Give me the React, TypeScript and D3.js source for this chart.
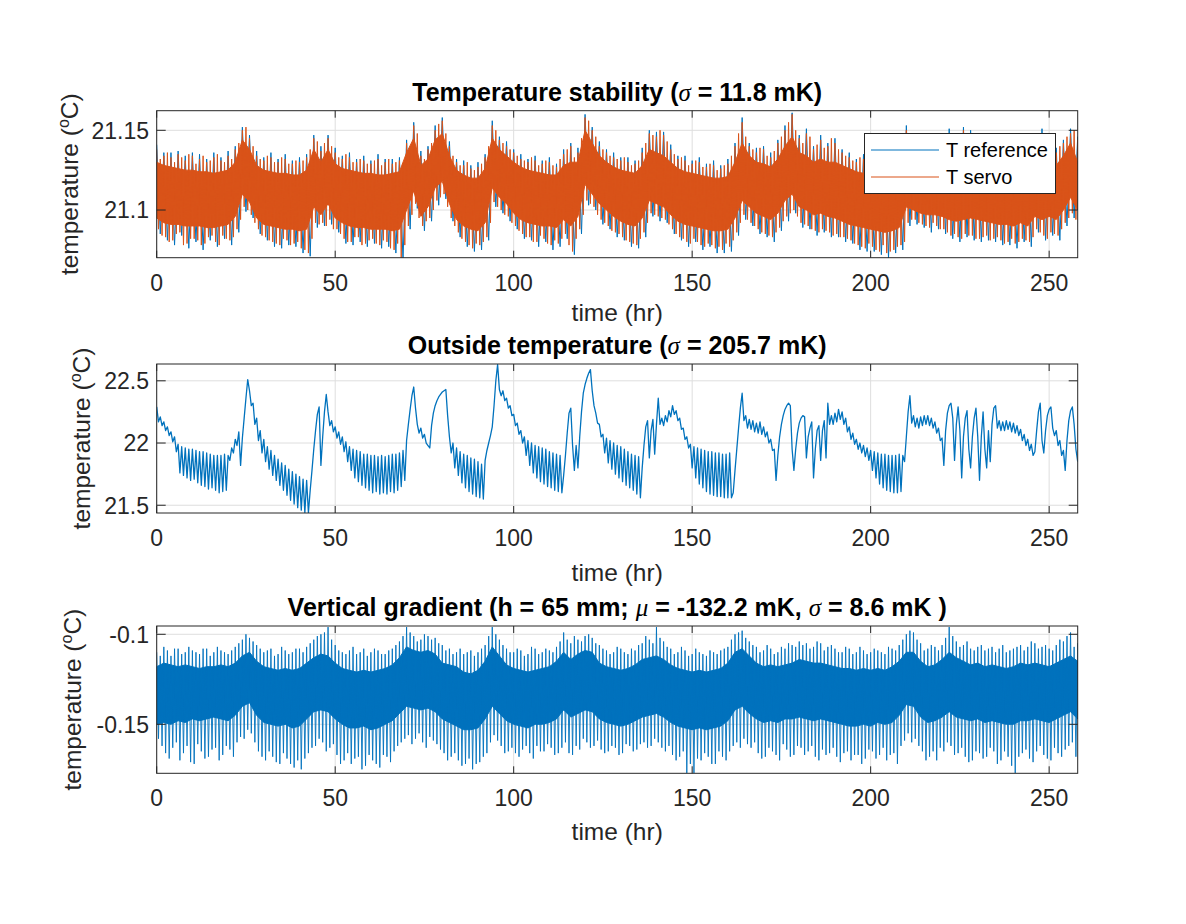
import React from 'react';
import * as d3 from 'd3';

// ---------- axes / ticks ----------
const X_MAX = 258;
const xTicks = [0, 50, 100, 150, 200, 250];
const stabTicks = [21.1, 21.15];
const outsideTicks = [21.5, 22, 22.5];
const gradTicks = [-0.15, -0.1];
const stabDomain = [21.0701, 21.1623];
const outsideDomain = [21.4376, 22.635];
const gradDomain = [-0.1772, -0.0954];

// ---------- panel 1 : temperature stability (even-hour samples, step 2 hr) ----------
const STAB_STEP = 2;
const servoHi = [
  21.138,21.134,21.133,21.135,21.131,21.134,21.132,21.130,21.133,21.131,
  21.134,21.138,21.150,21.145,21.134,21.131,21.133,21.130,21.132,21.129,
  21.130,21.133,21.145,21.137,21.145,21.136,21.132,21.133,21.130,21.131,
  21.129,21.132,21.130,21.129,21.131,21.142,21.153,21.134,21.138,21.150,
  21.156,21.140,21.130,21.128,21.126,21.127,21.133,21.153,21.144,21.140,
  21.136,21.132,21.130,21.131,21.129,21.130,21.127,21.135,21.140,21.136,
  21.158,21.150,21.140,21.136,21.133,21.131,21.130,21.129,21.136,21.148,
  21.146,21.147,21.138,21.132,21.131,21.129,21.130,21.127,21.128,21.126,
  21.129,21.140,21.155,21.140,21.136,21.138,21.133,21.142,21.150,21.160,
  21.145,21.148,21.138,21.144,21.140,21.142,21.136,21.133,21.130,21.132,
  21.130,21.128,21.131,21.129,21.130,21.150,21.140,21.136,21.138,21.135,
  21.137,21.148,21.139,21.150,21.147,21.138,21.135,21.136,21.134,21.135,
  21.133,21.137,21.134,21.140,21.148,21.140,21.136,21.142,21.148,21.144,
];
const servoLo = [
  21.088,21.083,21.081,21.086,21.079,21.082,21.078,21.083,21.080,21.084,
  21.081,21.088,21.102,21.097,21.088,21.083,21.080,21.078,21.081,21.079,
  21.076,21.073,21.092,21.092,21.094,21.088,21.082,21.080,21.083,21.079,
  21.082,21.078,21.080,21.075,21.070,21.090,21.104,21.090,21.095,21.106,
  21.110,21.095,21.086,21.080,21.076,21.078,21.083,21.105,21.100,21.096,
  21.090,21.085,21.083,21.080,21.082,21.078,21.079,21.085,21.074,21.088,
  21.106,21.102,21.094,21.090,21.086,21.083,21.080,21.078,21.086,21.098,
  21.096,21.094,21.088,21.083,21.080,21.082,21.078,21.079,21.076,21.075,
  21.077,21.086,21.097,21.092,21.088,21.085,21.083,21.089,21.096,21.100,
  21.092,21.090,21.087,21.088,21.086,21.085,21.083,21.081,21.078,21.076,
  21.077,21.074,21.073,21.075,21.078,21.092,21.094,21.091,21.089,21.090,
  21.088,21.084,21.083,21.085,21.084,21.082,21.084,21.082,21.081,21.080,
  21.079,21.082,21.080,21.088,21.084,21.086,21.084,21.092,21.098,21.092,
];
// odd-hour samples (t = 1, 3, ..., 257)
const servoHiOdd = [
  21.132,21.136,21.130,21.133,21.135,21.129,21.134,21.131,21.135,21.130,
  21.132,21.142,21.152,21.140,21.132,21.134,21.130,21.133,21.129,21.131,
  21.131,21.138,21.143,21.142,21.140,21.133,21.135,21.130,21.132,21.129,
  21.131,21.128,21.132,21.130,21.129,21.136,21.148,21.132,21.142,21.154,
  21.148,21.134,21.128,21.130,21.125,21.129,21.140,21.150,21.142,21.138,
  21.134,21.131,21.133,21.128,21.131,21.128,21.132,21.138,21.133,21.145,
  21.156,21.146,21.138,21.134,21.132,21.133,21.128,21.131,21.142,21.147,
  21.150,21.143,21.135,21.133,21.128,21.131,21.127,21.129,21.125,21.128,
  21.134,21.148,21.146,21.138,21.139,21.134,21.137,21.146,21.155,21.150,
  21.142,21.146,21.141,21.139,21.145,21.138,21.134,21.131,21.133,21.129,
  21.131,21.129,21.127,21.131,21.133,21.145,21.142,21.134,21.137,21.133,
  21.142,21.140,21.144,21.143,21.139,21.136,21.137,21.133,21.136,21.132,
  21.135,21.136,21.138,21.145,21.138,21.137,21.140,21.146,21.150,
];
const servoLoOdd = [
  21.084,21.080,21.085,21.078,21.082,21.081,21.079,21.084,21.078,21.082,
  21.083,21.094,21.100,21.092,21.084,21.081,21.079,21.082,21.078,21.080,
  21.075,21.082,21.091,21.090,21.088,21.085,21.080,21.083,21.078,21.081,
  21.079,21.081,21.076,21.079,21.078,21.097,21.095,21.093,21.100,21.108,
  21.102,21.090,21.082,21.078,21.079,21.080,21.092,21.102,21.097,21.092,
  21.087,21.083,21.080,21.084,21.079,21.081,21.082,21.078,21.082,21.097,
  21.104,21.097,21.092,21.087,21.085,21.081,21.079,21.082,21.092,21.097,
  21.095,21.091,21.085,21.082,21.079,21.080,21.077,21.078,21.077,21.079,
  21.081,21.092,21.094,21.090,21.086,21.084,21.086,21.093,21.098,21.096,
  21.091,21.088,21.086,21.087,21.084,21.083,21.082,21.079,21.077,21.079,
  21.075,21.078,21.074,21.077,21.080,21.094,21.092,21.090,21.092,21.088,
  21.086,21.085,21.082,21.084,21.082,21.083,21.081,21.083,21.079,21.082,
  21.080,21.081,21.083,21.086,21.082,21.085,21.088,21.095,21.094,
];
const servoCoreHi = [
  21.130,21.128,21.127,21.126,21.125,21.125,21.124,21.124,21.123,21.124,
  21.125,21.130,21.144,21.138,21.128,21.125,21.124,21.123,21.123,21.122,
  21.122,21.125,21.138,21.130,21.138,21.129,21.126,21.125,21.124,21.123,
  21.123,21.122,21.122,21.123,21.124,21.136,21.145,21.128,21.132,21.144,
  21.148,21.134,21.125,21.122,21.120,21.120,21.126,21.145,21.138,21.134,
  21.130,21.127,21.125,21.124,21.123,21.122,21.122,21.128,21.130,21.130,
  21.150,21.142,21.134,21.130,21.127,21.125,21.124,21.123,21.128,21.138,
  21.136,21.134,21.130,21.126,21.124,21.123,21.122,21.121,21.120,21.120,
  21.121,21.130,21.142,21.134,21.130,21.129,21.127,21.132,21.140,21.146,
  21.136,21.134,21.130,21.132,21.130,21.130,21.128,21.126,21.124,21.123,
  21.122,21.121,21.120,21.121,21.122,21.136,21.132,21.130,21.131,21.130,
  21.129,21.130,21.129,21.130,21.130,21.128,21.127,21.127,21.126,21.126,
  21.125,21.127,21.125,21.132,21.130,21.131,21.128,21.134,21.142,21.130,
];
const servoCoreLo = [
  21.095,21.092,21.091,21.091,21.090,21.090,21.090,21.089,21.089,21.090,
  21.091,21.096,21.110,21.105,21.095,21.091,21.090,21.089,21.088,21.088,
  21.087,21.088,21.102,21.097,21.104,21.095,21.092,21.090,21.089,21.089,
  21.088,21.088,21.088,21.087,21.088,21.100,21.112,21.096,21.102,21.114,
  21.118,21.104,21.094,21.090,21.088,21.087,21.092,21.114,21.108,21.104,
  21.098,21.094,21.092,21.091,21.090,21.090,21.089,21.094,21.090,21.096,
  21.116,21.110,21.104,21.100,21.096,21.093,21.091,21.090,21.095,21.106,
  21.104,21.102,21.097,21.093,21.091,21.090,21.089,21.088,21.087,21.087,
  21.088,21.095,21.106,21.102,21.098,21.096,21.094,21.098,21.106,21.110,
  21.102,21.100,21.097,21.098,21.096,21.095,21.093,21.091,21.090,21.089,
  21.088,21.087,21.086,21.087,21.089,21.102,21.100,21.098,21.097,21.097,
  21.096,21.094,21.093,21.094,21.095,21.094,21.093,21.092,21.091,21.091,
  21.090,21.092,21.090,21.096,21.094,21.096,21.094,21.100,21.108,21.100,
];
const refHi = [
  21.141,21.136,21.136,21.137,21.134,21.136,21.135,21.132,21.136,21.133,
  21.137,21.140,21.152,21.147,21.137,21.133,21.136,21.132,21.135,21.131,
  21.133,21.135,21.147,21.140,21.147,21.139,21.134,21.136,21.132,21.134,
  21.131,21.135,21.132,21.132,21.133,21.144,21.155,21.137,21.140,21.153,
  21.158,21.143,21.132,21.131,21.128,21.130,21.135,21.156,21.146,21.143,
  21.138,21.135,21.132,21.134,21.131,21.133,21.129,21.138,21.142,21.139,
  21.160,21.152,21.143,21.138,21.136,21.133,21.133,21.131,21.139,21.150,
  21.149,21.149,21.141,21.134,21.134,21.131,21.133,21.129,21.131,21.128,
  21.132,21.142,21.158,21.142,21.139,21.140,21.136,21.144,21.153,21.161,
  21.147,21.151,21.140,21.147,21.142,21.145,21.138,21.136,21.132,21.135,
  21.132,21.131,21.133,21.132,21.132,21.153,21.142,21.139,21.140,21.138,
  21.139,21.151,21.141,21.152,21.150,21.140,21.138,21.138,21.137,21.137,
  21.136,21.139,21.137,21.142,21.151,21.142,21.139,21.144,21.151,21.146,
];
const refLo = [
  21.085,21.081,21.078,21.084,21.076,21.080,21.075,21.081,21.077,21.082,
  21.078,21.086,21.099,21.095,21.085,21.081,21.077,21.076,21.078,21.077,
  21.073,21.071,21.089,21.090,21.091,21.086,21.079,21.078,21.080,21.077,
  21.079,21.076,21.077,21.073,21.068,21.088,21.101,21.087,21.093,21.103,
  21.107,21.093,21.083,21.077,21.074,21.075,21.081,21.102,21.098,21.093,
  21.088,21.082,21.081,21.077,21.080,21.075,21.077,21.082,21.072,21.085,
  21.103,21.100,21.091,21.088,21.083,21.081,21.077,21.076,21.083,21.096,
  21.093,21.092,21.085,21.081,21.077,21.080,21.075,21.077,21.073,21.073,
  21.074,21.084,21.094,21.090,21.085,21.083,21.080,21.087,21.093,21.098,
  21.089,21.088,21.084,21.086,21.083,21.083,21.080,21.079,21.075,21.074,
  21.074,21.072,21.070,21.073,21.075,21.090,21.091,21.089,21.086,21.088,
  21.085,21.082,21.080,21.083,21.081,21.080,21.081,21.080,21.078,21.078,
  21.076,21.080,21.077,21.086,21.081,21.084,21.081,21.090,21.095,21.090,
];

// ---------- panel 2 : outside temperature (samples every 0.5 hr) ----------
const OUT_STEP = 0.5;
const outsideTemp = [
  22.29,22.17,22.21,22.14,22.17,22.10,22.13,22.06,22.09,22.01,
  22.05,21.93,21.99,21.76,21.97,21.74,21.96,21.72,21.95,21.70,
  21.95,21.71,21.94,21.68,21.93,21.66,21.93,21.65,21.92,21.63,
  21.91,21.64,21.90,21.62,21.90,21.60,21.90,21.61,21.91,21.62,
  21.90,21.86,21.96,21.92,22.03,21.98,22.09,21.82,22.04,22.20,
  22.36,22.51,22.42,22.30,22.32,22.15,22.20,22.02,22.10,21.92,
  22.03,21.85,21.97,21.79,21.94,21.74,21.90,21.70,21.87,21.66,
  21.84,21.62,21.82,21.58,21.79,21.54,21.77,21.51,21.75,21.48,
  21.73,21.46,21.71,21.44,21.70,21.44,21.62,21.78,21.95,22.10,
  22.23,22.29,21.82,22.05,22.25,22.39,22.25,22.14,22.18,22.09,
  22.13,22.04,22.09,21.99,22.05,21.93,22.01,21.85,21.97,21.78,
  21.95,21.72,21.94,21.69,21.93,21.66,21.91,21.64,21.91,21.62,
  21.90,21.60,21.90,21.61,21.89,21.59,21.90,21.60,21.89,21.59,
  21.90,21.61,21.91,21.60,21.91,21.62,21.92,21.65,21.94,21.70,
  22.02,22.15,22.27,22.38,22.45,22.28,22.15,22.08,22.12,22.04,
  22.07,22.00,21.98,21.96,22.14,22.24,22.30,22.34,22.37,22.39,
  22.41,22.42,22.43,22.22,22.05,21.92,22.00,21.80,21.96,21.74,
  21.93,21.68,21.91,21.64,21.90,21.61,21.88,21.59,21.87,21.57,
  21.85,21.56,21.83,21.55,21.86,21.94,22.00,22.06,22.13,22.30,
  22.50,22.63,22.43,22.38,22.42,22.34,22.36,22.28,22.30,22.22,
  22.23,22.14,22.16,22.07,22.10,22.00,22.05,21.90,22.02,21.82,
  22.00,21.76,21.98,21.72,21.97,21.69,21.96,21.67,21.95,21.65,
  21.93,21.64,21.92,21.62,21.91,21.61,21.90,21.60,21.74,21.90,
  22.08,22.24,22.28,21.98,21.78,21.98,21.80,22.05,22.25,22.40,
  22.47,22.52,22.56,22.59,22.42,22.30,22.24,22.16,22.15,22.05,
  22.07,21.92,22.04,21.84,22.02,21.79,22.00,21.75,21.98,21.72,
  21.97,21.69,21.95,21.66,21.93,21.64,21.91,21.62,21.90,21.59,
  21.89,21.56,21.80,21.98,22.13,22.18,21.88,22.10,22.19,21.91,
  22.15,22.36,22.15,22.20,22.14,22.22,22.17,22.26,22.21,22.30,
  22.23,22.26,22.18,22.20,22.11,22.12,22.03,22.05,21.96,21.99,
  21.80,21.97,21.72,21.96,21.67,21.95,21.64,21.94,21.61,21.93,
  21.59,21.93,21.58,21.92,21.57,21.92,21.57,21.91,21.56,21.91,
  21.56,21.92,21.56,21.60,21.78,21.95,22.12,22.28,22.40,22.18,
  22.22,22.12,22.19,22.11,22.18,22.09,22.16,22.08,22.17,22.07,
  22.13,22.05,22.09,22.00,22.03,21.94,21.95,21.70,21.90,22.05,
  22.15,22.22,22.27,22.30,22.32,22.30,21.95,21.78,21.95,22.08,
  22.16,22.20,22.22,22.21,21.88,22.05,22.12,22.17,21.72,21.95,
  22.10,22.14,21.86,22.10,22.18,21.88,22.32,22.15,22.22,22.15,
  22.24,22.17,22.27,22.19,22.25,22.15,22.20,22.09,22.13,22.03,
  22.08,21.99,22.03,21.95,22.00,21.92,21.98,21.89,21.96,21.86,
  21.94,21.78,21.93,21.72,21.92,21.67,21.91,21.64,21.91,21.62,
  21.90,21.61,21.90,21.60,21.90,21.60,21.91,21.61,21.90,21.85,
  22.05,22.25,22.38,22.16,22.22,22.13,22.20,22.12,22.21,22.14,
  22.22,22.15,22.22,22.14,22.20,22.12,22.17,22.08,22.12,22.02,
  22.04,21.82,22.10,22.24,22.30,22.32,22.20,21.86,22.15,22.29,
  22.10,21.72,22.05,22.20,22.26,21.95,21.80,22.05,22.20,22.28,
  22.05,21.70,22.05,22.25,21.95,21.80,22.10,21.85,22.15,22.28,
  22.30,22.12,22.18,22.10,22.17,22.10,22.18,22.11,22.17,22.09,
  22.16,22.08,22.14,22.06,22.11,22.02,22.07,21.98,22.03,21.94,
  21.99,21.90,21.93,22.10,22.25,22.32,22.02,21.92,22.10,22.22,
  22.27,22.29,22.12,22.06,22.10,21.98,22.02,21.90,21.94,21.78,
  22.02,22.18,22.26,22.29,22.15,21.95,21.85,
];

// ---------- panel 3 : vertical gradient (even-hour samples, step 2 hr) ----------
const GRAD_STEP = 2;
const gradHi = [
  -0.110,-0.107,-0.112,-0.108,-0.110,-0.109,-0.111,-0.108,-0.110,-0.109,
  -0.111,-0.107,-0.103,-0.102,-0.106,-0.110,-0.108,-0.111,-0.109,-0.110,
  -0.108,-0.107,-0.103,-0.100,-0.096,-0.106,-0.110,-0.109,-0.111,-0.108,
  -0.110,-0.109,-0.111,-0.108,-0.104,-0.096,-0.101,-0.103,-0.101,-0.102,
  -0.106,-0.108,-0.110,-0.111,-0.109,-0.110,-0.106,-0.096,-0.103,-0.108,
  -0.110,-0.109,-0.111,-0.108,-0.110,-0.109,-0.107,-0.099,-0.105,-0.103,
  -0.101,-0.102,-0.106,-0.109,-0.110,-0.108,-0.111,-0.109,-0.105,-0.103,
  -0.096,-0.104,-0.108,-0.110,-0.109,-0.111,-0.110,-0.112,-0.110,-0.109,
  -0.107,-0.100,-0.098,-0.104,-0.107,-0.109,-0.108,-0.110,-0.108,-0.106,
  -0.104,-0.105,-0.107,-0.105,-0.107,-0.108,-0.110,-0.108,-0.110,-0.109,
  -0.110,-0.109,-0.111,-0.108,-0.106,-0.100,-0.099,-0.105,-0.108,-0.107,
  -0.106,-0.096,-0.104,-0.106,-0.108,-0.107,-0.109,-0.107,-0.108,-0.110,
  -0.108,-0.106,-0.107,-0.105,-0.107,-0.108,-0.106,-0.104,-0.099,-0.105,
];
const gradLo = [
  -0.158,-0.166,-0.163,-0.170,-0.162,-0.172,-0.165,-0.168,-0.163,-0.167,
  -0.164,-0.160,-0.158,-0.155,-0.165,-0.170,-0.168,-0.172,-0.169,-0.174,
  -0.175,-0.166,-0.162,-0.160,-0.163,-0.167,-0.170,-0.172,-0.168,-0.173,
  -0.170,-0.174,-0.168,-0.165,-0.160,-0.156,-0.158,-0.160,-0.157,-0.161,
  -0.166,-0.168,-0.170,-0.172,-0.175,-0.171,-0.166,-0.156,-0.162,-0.165,
  -0.166,-0.164,-0.166,-0.162,-0.165,-0.163,-0.166,-0.160,-0.167,-0.164,
  -0.160,-0.162,-0.164,-0.165,-0.163,-0.166,-0.162,-0.164,-0.160,-0.162,
  -0.160,-0.165,-0.167,-0.168,-0.177,-0.177,-0.170,-0.168,-0.172,-0.168,
  -0.165,-0.160,-0.158,-0.163,-0.166,-0.168,-0.165,-0.170,-0.164,-0.167,
  -0.163,-0.165,-0.168,-0.164,-0.166,-0.168,-0.166,-0.170,-0.167,-0.169,
  -0.165,-0.167,-0.170,-0.166,-0.162,-0.155,-0.158,-0.165,-0.168,-0.170,
  -0.165,-0.162,-0.166,-0.168,-0.170,-0.166,-0.168,-0.165,-0.170,-0.168,
  -0.177,-0.166,-0.169,-0.165,-0.167,-0.170,-0.166,-0.164,-0.160,-0.165,
];
// odd-hour samples (t = 1, 3, ..., 257)
const gradHiOdd = [
  -0.112,-0.109,-0.108,-0.111,-0.107,-0.110,-0.108,-0.112,-0.107,-0.110,
  -0.109,-0.105,-0.100,-0.104,-0.108,-0.109,-0.112,-0.107,-0.111,-0.108,
  -0.110,-0.105,-0.101,-0.099,-0.103,-0.109,-0.111,-0.107,-0.110,-0.112,
  -0.108,-0.111,-0.109,-0.106,-0.101,-0.099,-0.104,-0.100,-0.103,-0.105,
  -0.109,-0.111,-0.108,-0.110,-0.112,-0.108,-0.101,-0.100,-0.106,-0.110,
  -0.108,-0.112,-0.107,-0.111,-0.108,-0.110,-0.104,-0.103,-0.101,-0.104,
  -0.100,-0.105,-0.108,-0.111,-0.107,-0.110,-0.108,-0.106,-0.101,-0.105,
  -0.102,-0.107,-0.111,-0.107,-0.112,-0.108,-0.111,-0.109,-0.111,-0.108,
  -0.103,-0.099,-0.102,-0.106,-0.110,-0.106,-0.111,-0.107,-0.105,-0.107,
  -0.106,-0.108,-0.104,-0.109,-0.106,-0.110,-0.107,-0.111,-0.107,-0.111,
  -0.108,-0.110,-0.107,-0.109,-0.103,-0.098,-0.103,-0.109,-0.106,-0.109,
  -0.102,-0.101,-0.107,-0.104,-0.109,-0.106,-0.108,-0.110,-0.106,-0.109,
  -0.107,-0.109,-0.104,-0.108,-0.106,-0.109,-0.103,-0.101,-0.107,
];
const gradLoOdd = [
  -0.162,-0.169,-0.160,-0.166,-0.171,-0.161,-0.169,-0.164,-0.170,-0.162,
  -0.168,-0.157,-0.153,-0.160,-0.168,-0.165,-0.171,-0.166,-0.172,-0.170,
  -0.169,-0.163,-0.158,-0.165,-0.161,-0.172,-0.166,-0.169,-0.175,-0.167,
  -0.172,-0.167,-0.171,-0.162,-0.158,-0.161,-0.155,-0.163,-0.159,-0.164,
  -0.170,-0.166,-0.173,-0.169,-0.172,-0.168,-0.160,-0.159,-0.166,-0.163,
  -0.168,-0.162,-0.169,-0.165,-0.161,-0.167,-0.163,-0.166,-0.162,-0.158,
  -0.163,-0.159,-0.166,-0.162,-0.167,-0.161,-0.165,-0.161,-0.163,-0.158,
  -0.163,-0.162,-0.170,-0.165,-0.172,-0.169,-0.166,-0.172,-0.165,-0.170,
  -0.162,-0.163,-0.161,-0.160,-0.169,-0.163,-0.167,-0.161,-0.168,-0.162,
  -0.167,-0.162,-0.170,-0.167,-0.163,-0.171,-0.165,-0.167,-0.172,-0.164,
  -0.169,-0.163,-0.167,-0.172,-0.159,-0.160,-0.162,-0.170,-0.165,-0.163,
  -0.160,-0.167,-0.163,-0.171,-0.165,-0.169,-0.163,-0.172,-0.165,-0.173,
  -0.168,-0.164,-0.171,-0.162,-0.169,-0.163,-0.168,-0.162,-0.168,
];
const gradCoreHi = [
  -0.118,-0.116,-0.117,-0.118,-0.117,-0.118,-0.119,-0.118,-0.118,-0.117,
  -0.118,-0.116,-0.112,-0.110,-0.115,-0.118,-0.119,-0.120,-0.119,-0.120,
  -0.119,-0.116,-0.113,-0.111,-0.112,-0.116,-0.119,-0.120,-0.121,-0.120,
  -0.121,-0.120,-0.119,-0.117,-0.113,-0.107,-0.109,-0.110,-0.109,-0.111,
  -0.116,-0.117,-0.118,-0.121,-0.122,-0.120,-0.115,-0.107,-0.112,-0.117,
  -0.119,-0.120,-0.121,-0.120,-0.119,-0.118,-0.115,-0.110,-0.114,-0.111,
  -0.109,-0.110,-0.116,-0.118,-0.119,-0.120,-0.119,-0.117,-0.114,-0.113,
  -0.112,-0.114,-0.117,-0.119,-0.120,-0.121,-0.120,-0.121,-0.120,-0.119,
  -0.116,-0.110,-0.108,-0.112,-0.116,-0.118,-0.117,-0.118,-0.117,-0.116,
  -0.114,-0.115,-0.116,-0.116,-0.117,-0.118,-0.119,-0.119,-0.120,-0.119,
  -0.120,-0.119,-0.120,-0.118,-0.115,-0.110,-0.110,-0.115,-0.118,-0.117,
  -0.114,-0.110,-0.113,-0.115,-0.117,-0.116,-0.118,-0.117,-0.118,-0.119,
  -0.118,-0.116,-0.117,-0.116,-0.117,-0.118,-0.116,-0.114,-0.112,-0.115,
];
const gradCoreLo = [
  -0.150,-0.149,-0.150,-0.148,-0.149,-0.147,-0.148,-0.147,-0.146,-0.147,
  -0.148,-0.145,-0.140,-0.138,-0.145,-0.149,-0.150,-0.151,-0.150,-0.152,
  -0.151,-0.147,-0.143,-0.142,-0.143,-0.147,-0.150,-0.152,-0.152,-0.151,
  -0.153,-0.152,-0.150,-0.148,-0.144,-0.140,-0.141,-0.142,-0.141,-0.143,
  -0.147,-0.149,-0.151,-0.153,-0.153,-0.152,-0.147,-0.140,-0.144,-0.148,
  -0.150,-0.151,-0.152,-0.150,-0.150,-0.149,-0.147,-0.142,-0.146,-0.144,
  -0.142,-0.143,-0.147,-0.149,-0.150,-0.151,-0.150,-0.148,-0.146,-0.145,
  -0.144,-0.146,-0.149,-0.151,-0.152,-0.153,-0.152,-0.153,-0.152,-0.151,
  -0.148,-0.142,-0.140,-0.144,-0.147,-0.149,-0.148,-0.149,-0.147,-0.147,
  -0.146,-0.147,-0.148,-0.147,-0.148,-0.149,-0.150,-0.151,-0.151,-0.150,
  -0.151,-0.149,-0.150,-0.149,-0.145,-0.139,-0.140,-0.146,-0.149,-0.148,
  -0.146,-0.143,-0.146,-0.147,-0.148,-0.147,-0.149,-0.148,-0.149,-0.150,
  -0.150,-0.148,-0.148,-0.147,-0.148,-0.149,-0.147,-0.145,-0.143,-0.147,
];

// ---------- styling ----------
const BLUE = '#0072BD';
const ORANGE = '#D95319';
const AXIS = '#262626';
const GRID = '#dedede';
const FONT = '"Liberation Sans", Arial, Helvetica, sans-serif';
const L = 156.7, R = 1077.7;
const CX = (L + R) / 2;

const x = d3.scaleLinear().domain([0, X_MAX]).range([L, R]);

// spike path: hi at t, lo at t + step/2 (even samples), optional odd samples in between
function zigzag(hi: number[], lo: number[], step: number, hiOdd?: number[], loOdd?: number[]): [number, number][] {
  const pts: [number, number][] = [];
  hi.forEach((h, i) => {
    const t = i * step;
    if (hiOdd && loOdd) {
      pts.push([t, h]);
      pts.push([t + step / 4, lo[i]]);
      if (i < hiOdd.length) {
        pts.push([t + step / 2, hiOdd[i]]);
        pts.push([t + (3 * step) / 4, loOdd[i]]);
      }
    } else {
      pts.push([t, h]);
      pts.push([t + step / 2, lo[i]]);
    }
  });
  return pts;
}

type PanelProps = {
  id: string;
  top: number;
  bottom: number;
  domain: number[];
  ticks: number[];
  title: React.ReactNode;
  ylabelX: number;
  xlabelY: number;
  render: (y: d3.ScaleLinear<number, number>) => React.ReactNode;
};

function Panel({ id, top, bottom, domain, ticks, title, ylabelX, xlabelY, render }: PanelProps) {
  const y = d3.scaleLinear().domain(domain).range([bottom, top]);
  return (
    <g>
      <defs>
        <clipPath id={id}>
          <rect x={L} y={top} width={R - L} height={bottom - top} />
        </clipPath>
      </defs>
      <rect x={L} y={top} width={R - L} height={bottom - top} fill="#fff" />
      {xTicks.map((t) => (
        <line key={'gx' + t} x1={x(t)} x2={x(t)} y1={top} y2={bottom} stroke={GRID} strokeWidth={1} />
      ))}
      {ticks.map((v) => (
        <line key={'gy' + v} x1={L} x2={R} y1={y(v)} y2={y(v)} stroke={GRID} strokeWidth={1} />
      ))}
      <g clipPath={`url(#${id})`}>{render(y)}</g>
      <rect x={L} y={top} width={R - L} height={bottom - top} fill="none" stroke={AXIS} strokeWidth={1} />
      {xTicks.map((t) => (
        <g key={'tx' + t}>
          <line x1={x(t)} x2={x(t)} y1={bottom} y2={bottom - 7} stroke={AXIS} strokeWidth={1} />
          <line x1={x(t)} x2={x(t)} y1={top} y2={top + 7} stroke={AXIS} strokeWidth={1} />
          <text x={x(t)} y={bottom + 33} textAnchor="middle" fontSize={23} fill={AXIS}>{String(t)}</text>
        </g>
      ))}
      {ticks.map((v) => (
        <g key={'ty' + v}>
          <line x1={L} x2={L + 9} y1={y(v)} y2={y(v)} stroke={AXIS} strokeWidth={1} />
          <line x1={R} x2={R - 9} y1={y(v)} y2={y(v)} stroke={AXIS} strokeWidth={1} />
          <text x={149} y={y(v)} dy="0.36em" textAnchor="end" fontSize={23} fill={AXIS}>{String(v)}</text>
        </g>
      ))}
      <text x={CX} y={top - 10} textAnchor="middle" fontSize={25} fontWeight="bold" fill="#000">{title}</text>
      <text x={CX} y={xlabelY} textAnchor="middle" fontSize={24.5} fill={AXIS}>time (hr)</text>
      <text transform={`translate(${ylabelX},${(top + bottom) / 2}) rotate(-90)`} textAnchor="middle" fontSize={24.5} fill={AXIS}>
        temperature (<tspan dy={-9} fontSize={16}>o</tspan><tspan dy={9}>C)</tspan>
      </text>
    </g>
  );
}

const Greek = ({ ch }: { ch: string }) => (
  <tspan fontStyle="italic" fontWeight="normal" fontFamily='"Liberation Serif", "DejaVu Serif", serif'>{ch}</tspan>
);

export default function App() {
  const zig = (y: d3.ScaleLinear<number, number>) =>
    d3.line<[number, number]>().x((d) => x(d[0])).y((d) => y(d[1]));
  const core = (y: d3.ScaleLinear<number, number>, hi: number[], lo: number[], step: number) =>
    d3.area<number>().x((_, i) => x(i * step)).y1((d) => y(d)).y0((_, i) => y(lo[i]))(hi) || '';

  return (
    <svg width={1186} height={924} style={{ position: 'absolute', left: 0, top: 0, background: '#fff', fontFamily: FONT }}>
      <rect x={0} y={0} width={1186} height={924} fill="#fff" />

      <Panel
        id="c1" top={110.7} bottom={257.7} domain={stabDomain} ticks={stabTicks}
        ylabelX={78} xlabelY={321}
        title={<>Temperature stability (<Greek ch="σ" /> = 11.8 mK)</>}
        render={(y) => (
          <>
            <path d={zig(y)(zigzag(refHi, refLo, STAB_STEP)) || ''} fill="none" stroke={BLUE} strokeWidth={1} />
            <path d={core(y, servoCoreHi, servoCoreLo, STAB_STEP)} fill={ORANGE} stroke={ORANGE} strokeWidth={1} />
            <path d={zig(y)(zigzag(servoHi, servoLo, STAB_STEP, servoHiOdd, servoLoOdd)) || ''} fill="none" stroke={ORANGE} strokeWidth={1} />
          </>
        )}
      />

      <Panel
        id="c2" top={364} bottom={513} domain={outsideDomain} ticks={outsideTicks}
        ylabelX={90} xlabelY={581}
        title={<>Outside temperature (<Greek ch="σ" /> = 205.7 mK)</>}
        render={(y) => (
          <path
            d={d3.line<number>().x((_, i) => x(i * OUT_STEP)).y((d) => y(d))(outsideTemp) || ''}
            fill="none" stroke={BLUE} strokeWidth={1.3} strokeLinejoin="round"
          />
        )}
      />

      <Panel
        id="c3" top={626} bottom={773.3} domain={gradDomain} ticks={gradTicks}
        ylabelX={81} xlabelY={840}
        title={<>Vertical gradient (h = 65 mm; <Greek ch="μ" /> = -132.2 mK, <Greek ch="σ" /> = 8.6 mK )</>}
        render={(y) => (
          <>
            <path d={core(y, gradCoreHi, gradCoreLo, GRAD_STEP)} fill={BLUE} stroke={BLUE} strokeWidth={1} />
            <path d={zig(y)(zigzag(gradHi, gradLo, GRAD_STEP, gradHiOdd, gradLoOdd)) || ''} fill="none" stroke={BLUE} strokeWidth={0.9} />
          </>
        )}
      />

      {/* legend */}
      <g>
        <rect x={864.5} y={133.5} width={191} height={60} fill="#fff" stroke={AXIS} strokeWidth={1} />
        <line x1={871} x2={939} y1={150} y2={150} stroke={BLUE} strokeWidth={1.2} />
        <line x1={871} x2={939} y1={177} y2={177} stroke={ORANGE} strokeWidth={1.2} />
        <text x={946} y={157} fontSize={20} fill="#000">T reference</text>
        <text x={946} y={184} fontSize={20} fill="#000">T servo</text>
      </g>
    </svg>
  );
}
